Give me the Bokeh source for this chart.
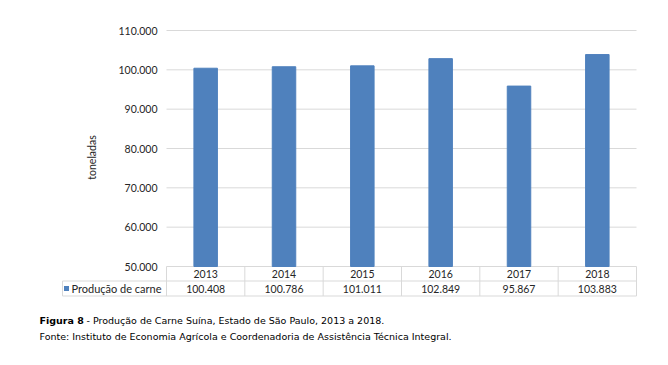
from bokeh.plotting import figure
from bokeh.models import Range1d
from bokeh.embed import file_html
from bokeh.resources import INLINE
from bokeh.core.properties import value
import numpy as np

years = ["2013", "2014", "2015", "2016", "2017", "2018"]
producao = [100408, 100786, 101011, 102849, 95867, 103883]
y_ticks = [50000, 60000, 70000, 80000, 90000, 100000, 110000]
series_name = "Produção de carne"
y_label = "toneladas"
caption_bold = "Figura 8"
caption_rest = "- Produção de Carne Suína, Estado de São Paulo, 2013 a 2018."
caption_src = "Fonte: Instituto de Economia Agrícola e Coordenadoria de Assistência Técnica Integral."

BLUE = "#4F81BD"
GRID = "#d9d9d9"
TXT = "#262626"
FONT = "Lato"
FS = "10.5px"
CF = "DejaVu Sans"
CFS = "9.5px"

def fmt(v):
    return f"{v:,}".replace(",", ".")

# ---- layout in pixels (canvas coordinates) ----
W, H = 660, 357
PL, PR = 166, 636          # plot columns span (px)
TOP, BASE = 30, 266        # px of top tick / bottom tick
n = len(years)
xs = np.arange(n) + 0.5
ppu = (PR - PL) / n
upp = (y_ticks[-1] - y_ticks[0]) / (BASE - TOP)

def X(px):
    return (px - PL) / ppu

def Y(px):
    return y_ticks[0] - (px - BASE) * upp

p = figure(width=W, height=H, output_backend="svg", toolbar_location=None,
           x_range=Range1d(X(0), X(W)), y_range=Range1d(Y(H), Y(0)),
           x_axis_type=None, y_axis_type=None,
           min_border_left=0, min_border_right=0, min_border_top=0, min_border_bottom=0)
p.outline_line_color = None
p.grid.visible = False

# gridlines
p.segment(x0=[0] * len(y_ticks), y0=y_ticks, x1=[n] * len(y_ticks), y1=y_ticks,
          line_color=GRID, line_width=1)
# bars
p.vbar(x=xs, top=producao, bottom=y_ticks[0], width=0.3, color=BLUE)
# y tick labels
p.text(x=[X(157)] * len(y_ticks), y=y_ticks, text=[fmt(t) for t in y_ticks],
       text_align="right", text_baseline="middle", text_font=value(FONT),
       text_font_size=FS, text_color=TXT)
# y axis title
p.text(x=[X(91)], y=[Y(157)], text=[y_label], angle=np.pi / 2, text_align="center",
       text_baseline="middle", text_font=value(FONT), text_font_size=FS, text_color=TXT)

# ---- data table ----
L = X(62)
r_mid, r_bot = Y(280.5), Y(295.5)
p.segment(x0=[L, L], y0=[r_mid, r_bot], x1=[n, n], y1=[r_mid, r_bot],
          line_color=GRID, line_width=1)
vx = list(range(n + 1))
p.segment(x0=vx, y0=[y_ticks[0]] * len(vx), x1=vx, y1=[r_bot] * len(vx),
          line_color=GRID, line_width=1)
p.segment(x0=[L], y0=[r_mid], x1=[L], y1=[r_bot], line_color=GRID, line_width=1)

ym1 = (y_ticks[0] + r_mid) / 2
ym2 = (r_mid + r_bot) / 2
p.text(x=xs, y=[ym1] * n, text=years, text_align="center", text_baseline="middle",
       text_font=value(FONT), text_font_size=FS, text_color=TXT)
p.text(x=xs, y=[ym2] * n, text=[fmt(v) for v in producao], text_align="center",
       text_baseline="middle", text_font=value(FONT), text_font_size=FS, text_color=TXT)
p.scatter(x=[X(66)], y=[ym2], marker="square", size=5, color=BLUE, line_color=None)
p.text(x=[X(71)], y=[ym2], text=[series_name], text_align="left", text_baseline="middle",
       text_font=value(FONT), text_font_size="11px", text_color=TXT)

# ---- caption ----
p.text(x=[X(39)], y=[Y(320)], text=[caption_bold], text_align="left", text_baseline="middle",
       text_font=value(CF), text_font_size=CFS, text_font_style="bold", text_color="#000000")
p.text(x=[X(86)], y=[Y(320)], text=[caption_rest], text_align="left", text_baseline="middle",
       text_font=value(CF), text_font_size=CFS, text_color="#000000")
p.text(x=[X(39)], y=[Y(336)], text=[caption_src], text_align="left", text_baseline="middle",
       text_font=value(CF), text_font_size=CFS, text_color="#000000")

open("out.html", "w").write(file_html(p, INLINE))
